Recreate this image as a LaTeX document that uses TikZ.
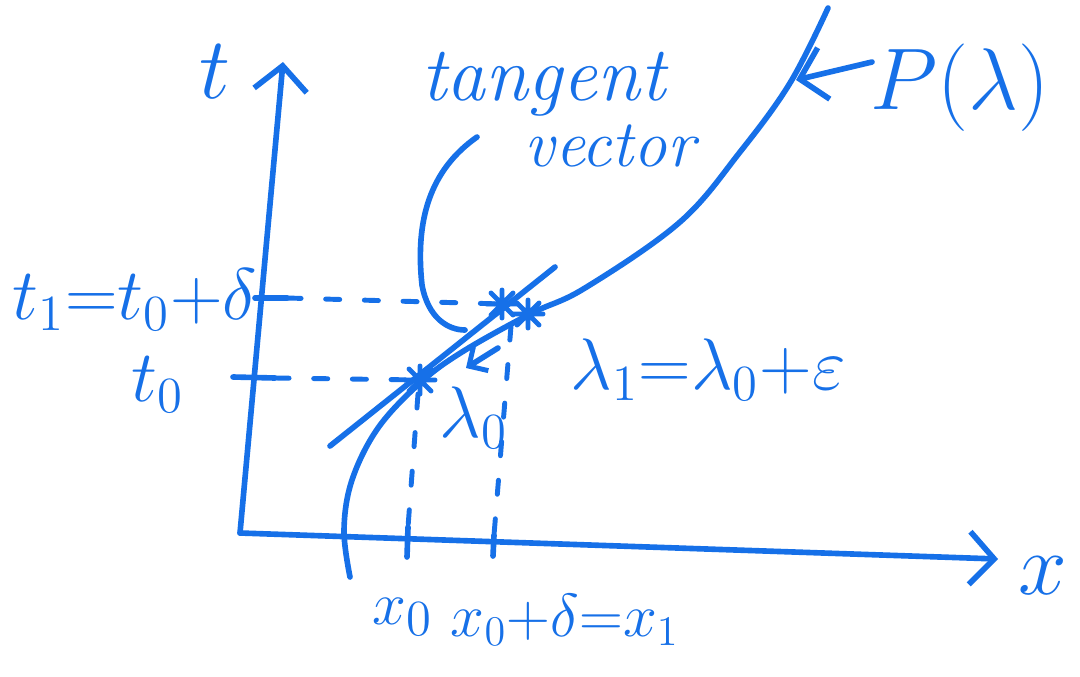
\documentclass[tikz,border=0pt]{standalone}
\usetikzlibrary{arrows.meta}
\definecolor{pen}{RGB}{22,112,232}
\newcommand{\fs}[1]{\fontsize{#1}{#1}\selectfont}
\begin{document}
\begin{tikzpicture}[x=0.01cm,y=-0.01cm, line cap=round, line join=round,
  pen/.style={draw=pen,line width=1.6pt},
  dashedline/.style={draw=pen, line width=1.4pt, dash pattern=on 4pt off 7pt},
  lbl/.style={text=pen, inner sep=0pt},
  tip/.style={-{Straight Barb[length=7pt,width=15pt,line width=1.6pt]}},
  smalltip/.style={-{Straight Barb[length=4pt,width=8pt,line width=1.4pt]}},
  starmark/.pic={\draw[draw=pen,line width=1.4pt] (-15,0)--(15,0) (-11,-11)--(11,11) (-11,11)--(11,-11) (0,-14)--(0,14);}]
\fill[white] (0,0) rectangle (1080,676);
\useasboundingbox (0,0) rectangle (1080,676);

% axes
\coordinate (O) at (240,533);
\coordinate (ytop) at (283,62);
\coordinate (xend) at (998,559);
\draw[pen,tip] (O) -- (ytop);
\draw[pen,tip] (O) -- (xend);

% key points
\coordinate (A) at (420,380);
\coordinate (B) at (502,304);
\coordinate (C) at (528,314);
\coordinate (Cd) at (511,326);
\coordinate (Ad) at (418,394);

% axis marks
\coordinate (t1ax) at (287,298);
\coordinate (t0ax) at (275,378);
\coordinate (x0ax) at (408,527);
\coordinate (x1ax) at (494,535);
\draw[pen] (255,298) -- (t1ax);
\draw[pen] (233,377) -- (t0ax);
\draw[pen] (x0ax) -- (407,557);
\draw[pen] (x1ax) -- (493,556);

% dashed guides
\draw[dashedline] (t1ax) -- (B);
\draw[dashedline] (t0ax) -- (A);
\draw[dashedline] (Ad) -- (x0ax);
\draw[dashedline] (Cd) -- (x1ax);

% curve P(lambda)
\draw[pen] plot[smooth, tension=0.6] coordinates {(350,577) (344,530) (352,480) (378,428) (420,383) (462,352) (530,314) (585,288) (680,222) (740,152) (790,83) (828,8)};

% tangent line
\coordinate (tanL) at (330,446);
\coordinate (tanR) at (555,267);
\draw[pen] (tanL) -- (tanR);

% star marks
\pic at (A) {starmark};
\pic at (B) {starmark};
\pic at (C) {starmark};

% labels
\node[lbl,font=\fs{32}] (t) at (215,72) {$t$};
\node[lbl,font=\fs{32}] (x) at (1043,576) {$x$};
\node[lbl,font=\fs{20}] (t1) at (135,300) {$t_1{=}t_0{+}\delta$};
\node[lbl,font=\fs{21}] (t0) at (158,385) {$t_0$};
\node[lbl,font=\fs{19}] (x0) at (403,617) {$x_0$};
\node[lbl,font=\fs{17}] (x1) at (565,620) {$x_0{+}\delta{=}x_1$};
\node[lbl,font=\fs{21}] (l1) at (708,370) {$\lambda_1{=}\lambda_0{+}\varepsilon$};
\node[lbl,font=\fs{21}] (l0) at (474,418) {$\lambda_0$};
\node[lbl,font=\fs{29}] (P) at (960,88) {$P(\lambda)$};
\node[lbl,font=\fs{22}] (tg) at (545,84) {\textit{tangent}};
\node[lbl,font=\fs{19}] (vc) at (612,146) {\textit{vector}};

% tangent vector pointer
\coordinate (tvs) at (477,137);
\coordinate (tve) at (465,330);
\draw[pen] (tvs) .. controls (430,170) and (415,220) .. (422,285) .. controls (428,318) and (448,330) .. (tve);

% lambda0 arrow
\coordinate (l0s) at (498,348);
\coordinate (l0e) at (466,368);
\draw[pen,smalltip] (l0s) -- (l0e);

% P(lambda) arrow
\coordinate (Ps) at (872,62);
\coordinate (Pe) at (796,80);
\draw[pen,tip] (Ps) -- (Pe);
\end{tikzpicture}
\end{document}
